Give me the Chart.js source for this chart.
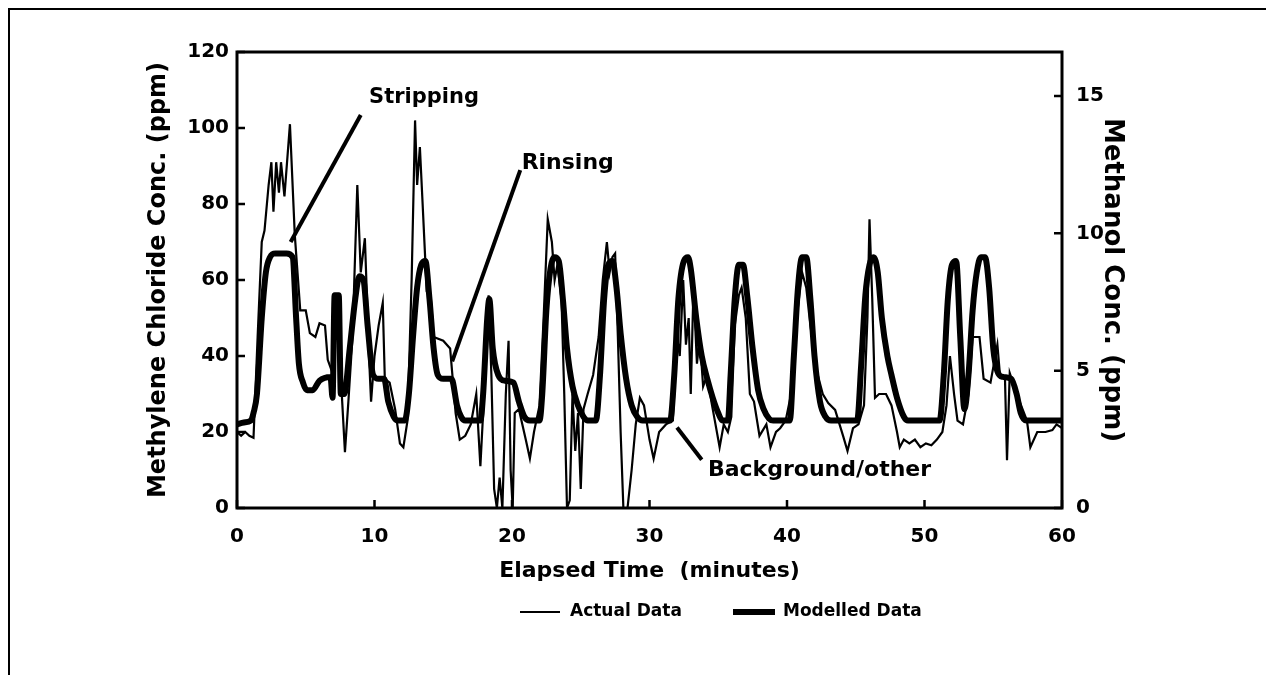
<!DOCTYPE html>
<html>
<head>
<meta charset="utf-8">
<script src="https://cdn.jsdelivr.net/npm/chart.js@4.4.1/dist/chart.umd.min.js"></script>
<style>
  body { margin: 0; background: #fff; }
  #wrap { width: 1266px; height: 675px; }
</style>
</head>
<body>
<div id="wrap"><canvas id="myChart" width="1266" height="675"></canvas></div>
<script>
// elapsed time (minutes) and methylene chloride (ppm), measured
const actualTime = [0, 0.3, 0.6, 0.9, 1.2, 1.5, 1.8, 2.0, 2.3, 2.5, 2.65, 2.85, 3.05, 3.2, 3.45, 3.85, 4.2, 4.6, 5.0, 5.3,
  5.7, 6.0, 6.4, 6.6, 6.9, 7.1, 7.3, 7.5, 7.85, 8.1, 8.4, 8.75, 9.0, 9.3, 9.6, 9.75, 10.0, 10.3, 10.6, 10.75,
  11.1, 11.5, 11.85, 12.1, 12.4, 12.7, 12.95, 13.1, 13.3, 13.5, 13.8, 14.1, 14.3, 15.0, 15.5, 15.9, 16.2, 16.6, 17.0, 17.4,
  17.7, 17.9, 18.1, 18.3, 18.5, 18.7, 18.9, 19.1, 19.3, 19.55, 19.75, 19.9, 20.05, 20.2, 20.5, 21.0, 21.3, 21.6, 22.0, 22.3,
  22.6, 22.9, 23.1, 23.3, 23.6, 23.8, 24.0, 24.2, 24.4, 24.6, 24.8, 25.0, 25.2, 25.5, 25.9, 26.3, 26.6, 26.9, 27.1, 27.3,
  27.5, 27.7, 27.9, 28.1, 28.4, 28.7, 29.0, 29.3, 29.6, 30.0, 30.3, 30.7, 31.2, 31.7, 32.0, 32.2, 32.45, 32.65, 32.85, 33.0,
  33.2, 33.45, 33.65, 33.9, 34.2, 34.5, 34.8, 35.1, 35.4, 35.7, 35.95, 36.2, 36.5, 36.7, 37.0, 37.3, 37.6, 38.0, 38.5, 38.8,
  39.2, 39.5, 39.9, 40.3, 40.7, 41.1, 41.4, 41.7, 42.2, 42.6, 43.0, 43.5, 44.1, 44.4, 44.8, 45.2, 45.6, 45.85, 46.0, 46.2,
  46.4, 46.7, 47.2, 47.6, 48.0, 48.2, 48.5, 48.9, 49.3, 49.7, 50.1, 50.5, 50.9, 51.3, 51.6, 51.85, 52.15, 52.4, 52.8, 53.2,
  53.5, 54.0, 54.3, 54.8, 55.3, 55.5, 55.85, 56.0, 56.2, 56.7, 57.45, 57.7, 58.2, 58.8, 59.3, 59.6, 60];
const actualPpm = [20, 19, 20, 19, 18.5, 45, 70, 73, 85, 91, 78, 91, 83, 91, 82, 101, 72, 52, 52, 46,
  45, 48.6, 48, 39, 36, 56, 56, 38, 14.7, 28, 45, 85, 62, 71, 40, 28, 40, 48, 54, 34,
  33, 26, 17, 16, 23, 60, 102, 85, 95, 80, 57, 55, 45, 44, 42, 25, 18, 19, 22, 30,
  11, 25, 45, 56, 35, 5, 0, 8, 0, 30, 44, 10, 0, 25, 26, 18, 13, 20, 27, 50,
  76, 70, 60, 64, 55, 30, 0, 2, 30, 15, 25, 5, 26, 30, 35, 45, 60, 70, 62, 66,
  67, 45, 20, 0, 0, 10, 22, 29, 27, 18, 13, 20, 22, 23, 45, 40, 60, 43, 50, 30,
  58, 38, 45, 32, 35, 28, 22, 16, 22, 20, 24, 48, 56, 58, 50, 30, 28, 19, 22, 16,
  20, 21, 23, 30, 50, 62, 58, 48, 35.5, 30, 27.6, 25.8, 18.7, 15, 21, 22, 27, 50, 76, 55,
  29, 30, 30, 27, 20, 16, 18, 17, 18, 16, 17, 16.5, 18, 20, 27, 40, 30, 23, 22, 30,
  45, 45, 34, 33, 43, 34.5, 34.5, 12.6, 35.5, 30, 23, 16, 20, 20, 20.5, 22, 21];

// modelled concentration (ppm)
const modelTime = [0, 0.5, 1.0, 1.2, 1.45, 1.8, 2.1, 2.4, 2.8, 3.6, 4.05, 4.3, 4.5, 4.8, 5.1, 5.5, 6.0, 6.8, 6.95, 7.1,
  7.4, 7.55, 7.8, 8.2, 8.6, 8.9, 9.2, 9.5, 9.9, 10.3, 10.7, 11.0, 11.4, 11.7, 12.2, 12.5, 12.8, 13.1, 13.4, 13.7,
  14.0, 14.3, 14.6, 15.0, 15.6, 16.0, 16.3, 16.6, 17.7, 17.9, 18.2, 18.35, 18.6, 19.0, 19.5, 20.1, 20.5, 20.9, 21.3, 22.0,
  22.2, 22.5, 22.8, 23.1, 23.4, 23.7, 24.0, 24.4, 24.8, 25.2, 25.5, 26.1, 26.4, 26.7, 27.0, 27.3, 27.6, 27.9, 28.3, 28.7,
  29.1, 29.5, 31.5, 31.8, 32.1, 32.5, 32.8, 33.0, 33.4, 33.8, 34.2, 34.6, 35.0, 35.3, 35.7, 35.9, 36.2, 36.5, 36.8, 37.1,
  37.5, 37.9, 38.3, 38.7, 39.0, 40.2, 40.5, 40.8, 41.1, 41.4, 41.7, 42.0, 42.4, 42.8, 43.2, 45.1, 45.4, 45.7, 46.0, 46.3,
  46.6, 46.9, 47.3, 47.6, 48.0, 48.5, 48.8, 51.1, 51.4, 51.7, 52.0, 52.3, 52.6, 52.9, 53.2, 53.5, 53.8, 54.1, 54.4, 54.7,
  55.0, 55.3, 55.7, 56.3, 56.7, 57.0, 57.4, 60];
const modelPpm = [22, 22.5, 23, 25, 30, 50, 62, 66, 67, 67, 66, 50, 38, 33, 31, 31, 33.5, 34.5, 29, 56,
  56, 30, 30, 42, 55, 61, 60, 48, 35, 34, 34, 28, 24, 23, 23, 30, 45, 58, 64, 65,
  55, 42, 35, 34, 34, 27, 24, 23, 23, 30, 50, 55, 42, 35, 33.5, 33, 28, 24, 23, 23,
  30, 52, 63, 66, 65, 55, 42, 32, 27, 24, 23, 23, 35, 55, 64, 65, 58, 46, 34, 27,
  24, 23, 23, 35, 55, 65, 66, 63, 50, 40, 34, 29, 25, 23, 23, 35, 55, 64, 64, 56,
  42, 31, 26, 23.5, 23, 23, 40, 58, 66, 66, 55, 40, 28, 24, 23, 23, 38, 56, 64, 66,
  62, 50, 40, 35, 29, 24, 23, 23, 35, 55, 64, 65, 45, 26, 35, 52, 62, 66, 66, 58,
  42, 36, 34.5, 34, 30, 25, 23, 23];

// tick labels
const xTicks = [0, 10, 20, 30, 40, 50, 60];
const leftTicks = [0, 20, 40, 60, 80, 100, 120];
const rightTicks = [0, 5, 10, 15];

// callouts: [label, x, y, pointer from x, y, to x, y]
const notes = [
  ['Stripping', 13.6, 108, 9.0, 103.4, 3.9, 70],
  ['Rinsing', 20.7, 90.7, 20.6, 88.9, 15.65, 38.6],
  ['Background/other', 34.25, 10, 32.0, 21.2, 33.8, 12.7]
];

const FONT = '"DejaVu Sans", Verdana, sans-serif';

const actualPts = actualTime.map((t, i) => ({ x: t, y: actualPpm[i] }));
const modelPts = modelTime.map((t, i) => ({ x: t, y: modelPpm[i] }));

const figPlugin = {
  id: 'figPlugin',
  afterDraw(chart) {
    const ctx = chart.ctx;
    const a = chart.chartArea;
    const xs = chart.scales.x, yl = chart.scales.y, yr = chart.scales.y2;
    ctx.save();
    ctx.strokeStyle = '#000';
    ctx.fillStyle = '#000';
    ctx.lineCap = 'butt';

    // inward tick marks
    ctx.lineWidth = 2.5;
    const tl = 8;
    ctx.beginPath();
    for (const v of xTicks) {
      const px = xs.getPixelForValue(v);
      ctx.moveTo(px, a.bottom); ctx.lineTo(px, a.bottom - tl);
    }
    for (const v of leftTicks) {
      const py = yl.getPixelForValue(v);
      ctx.moveTo(a.left, py); ctx.lineTo(a.left + tl, py);
    }
    for (const v of rightTicks) {
      const py = yr.getPixelForValue(v);
      ctx.moveTo(a.right, py); ctx.lineTo(a.right - tl, py);
    }
    ctx.stroke();

    // plot frame
    ctx.lineWidth = 3;
    ctx.strokeRect(a.left, a.top, a.right - a.left, a.bottom - a.top);

    // outer figure border (top and left)
    ctx.lineWidth = 2;
    ctx.beginPath();
    ctx.moveTo(9, 675); ctx.lineTo(9, 9); ctx.lineTo(1266, 9);
    ctx.stroke();

    // callouts
    ctx.textBaseline = 'middle';
    notes.forEach((n, i) => {
      ctx.lineWidth = 4;
      ctx.beginPath();
      ctx.moveTo(xs.getPixelForValue(n[3]), yl.getPixelForValue(n[4]));
      ctx.lineTo(xs.getPixelForValue(n[5]), yl.getPixelForValue(n[6]));
      ctx.stroke();
      ctx.font = 'bold ' + (i === 0 ? 21 : 22) + 'px ' + FONT;
      ctx.textAlign = i === 0 ? 'center' : 'left';
      ctx.fillText(n[0], xs.getPixelForValue(n[1]), yl.getPixelForValue(n[2]));
    });

    // legend
    const ly = 612;
    ctx.lineWidth = 2;
    ctx.beginPath(); ctx.moveTo(520, ly); ctx.lineTo(560, ly); ctx.stroke();
    ctx.lineWidth = 6;
    ctx.beginPath(); ctx.moveTo(733, ly); ctx.lineTo(775, ly); ctx.stroke();
    ctx.font = 'bold 17px ' + FONT;
    ctx.textAlign = 'left';
    ctx.fillText(chart.data.datasets[0].label, 570, ly);
    ctx.fillText(chart.data.datasets[1].label, 783, ly);
    ctx.restore();
  }
};

const tickFont = { family: FONT, size: 20, weight: 'bold' };

const ctx = document.getElementById('myChart');
new Chart(ctx, {
  type: 'line',
  data: {
    datasets: [{
      label: 'Actual Data',
      data: actualPts,
      borderColor: '#000',
      borderWidth: 2.2,
      pointRadius: 0,
      tension: 0,
      yAxisID: 'y'
    }, {
      label: 'Modelled Data',
      data: modelPts,
      borderColor: '#000',
      borderWidth: 6,
      pointRadius: 0,
      cubicInterpolationMode: 'monotone',
      yAxisID: 'y'
    }]
  },
  options: {
    responsive: false,
    animation: false,
    devicePixelRatio: 1,
    layout: { padding: { top: 52, left: 0, right: 0, bottom: 87 } },
    plugins: { legend: { display: false }, tooltip: { enabled: false } },
    scales: {
      x: {
        type: 'linear', min: 0, max: 60,
        afterBuildTicks: s => { s.ticks = xTicks.map(v => ({ value: v })); },
        afterFit: s => { s.height = 80; },
        grid: { display: false, drawTicks: false },
        border: { display: false },
        ticks: { color: '#000', font: tickFont, padding: 17, maxRotation: 0 },
        title: { display: true, text: 'Elapsed Time  (minutes)', color: '#000',
          font: { family: FONT, size: 22, weight: 'bold' }, padding: { top: 0, bottom: 4 } }
      },
      y: {
        position: 'left', min: 0, max: 120,
        afterBuildTicks: s => { s.ticks = leftTicks.map(v => ({ value: v })); },
        afterFit: s => { s.width = 237; },
        grid: { display: false, drawTicks: false },
        border: { display: false },
        ticks: { color: '#000', font: tickFont, padding: 8 },
        title: { display: true, text: 'Methylene Chloride Conc. (ppm)', color: '#000',
          font: { family: FONT, size: 24, weight: 'bold' }, padding: { top: 144, bottom: 0 } }
      },
      y2: {
        position: 'right', min: 0, max: 16.6,
        afterBuildTicks: s => { s.ticks = rightTicks.map(v => ({ value: v })); },
        afterFit: s => { s.width = 204; },
        grid: { display: false, drawTicks: false },
        border: { display: false },
        ticks: { color: '#000', font: tickFont, padding: 14 },
        title: { display: true, text: 'Methanol Conc. (ppm)', color: '#000',
          font: { family: FONT, size: 26, weight: 'bold' }, padding: { top: 139, bottom: 0 } }
      }
    }
  },
  plugins: [figPlugin]
});
</script>
</body>
</html>
